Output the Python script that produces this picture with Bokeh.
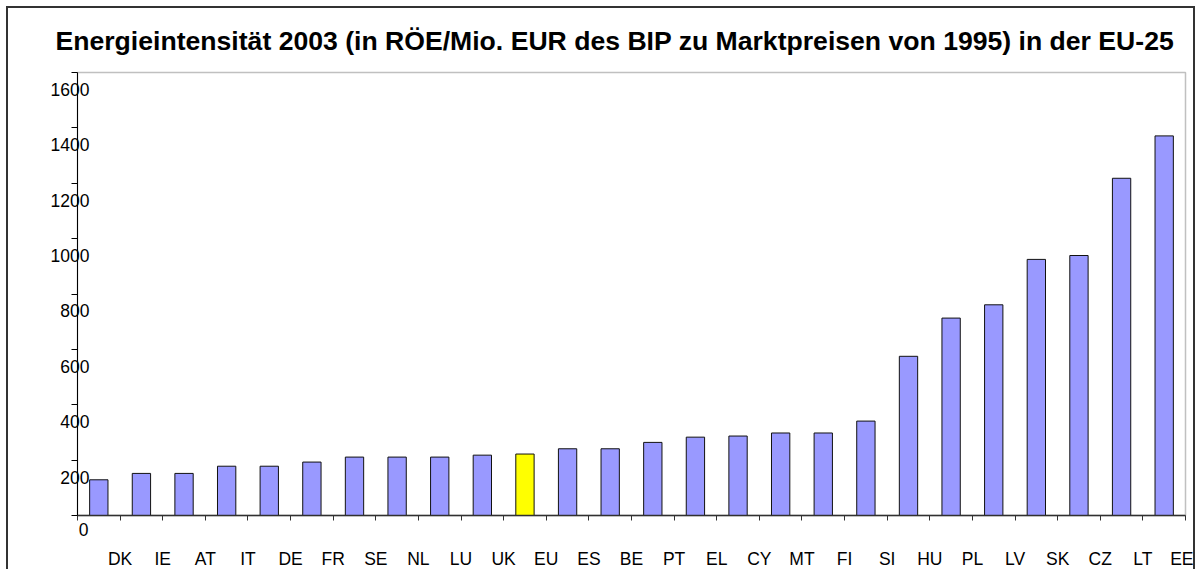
from bokeh.plotting import figure
from bokeh.models import ColumnDataSource, Range1d, FixedTicker, LinearAxis
from bokeh.embed import file_html
from bokeh.resources import INLINE

title_text = "Energieintensität 2003 (in RÖE/Mio. EUR des BIP zu Marktpreisen von 1995) in der EU-25"
countries = ["DK", "IE", "AT", "IT", "DE", "FR", "SE", "NL", "LU", "UK", "EU", "ES", "BE",
             "PT", "EL", "CY", "MT", "FI", "SI", "HU", "PL", "LV", "SK", "CZ", "LT", "EE"]
values = [129, 152, 152, 178, 178, 193, 211, 211, 211, 218, 222, 241, 241,
          264, 283, 287, 298, 298, 341, 575, 713, 761, 925, 939, 1218, 1371]
highlight = "EU"
y_ticks = [0, 200, 400, 600, 800, 1000, 1200, 1400, 1600]
y_tick_labels = [str(t) for t in y_ticks]

BAR_COLOR = "#9999FF"
HI_COLOR = "#FFFF00"
FONT = "Liberation Sans"
LABEL_SIZE = "17.5px"

W, H = 1189, 563
FRAME_L, FRAME_R, FRAME_T, FRAME_B = 69, 12, 64, 54
frame_h = H - FRAME_T - FRAME_B
frame_w = W - FRAME_L - FRAME_R

n = len(countries)
y_max = y_ticks[-1]
bar_src = ColumnDataSource(dict(
    x=[i + 0.5 for i in range(n)],
    top=values,
    color=[HI_COLOR if c == highlight else BAR_COLOR for c in countries],
))

# label offsets (pixels) converted to data units for shifted label ranges
ylab_shift = 17 * y_max / frame_h
xzero_shift = 6 * n / frame_w

p = figure(width=W, height=H, output_backend="svg", toolbar_location=None,
           x_range=Range1d(0, n), y_range=Range1d(0, y_max),
           min_border_left=FRAME_L, min_border_right=FRAME_R,
           min_border_top=FRAME_T, min_border_bottom=FRAME_B)
p.extra_y_ranges = {"ylab": Range1d(ylab_shift, y_max + ylab_shift)}
p.extra_x_ranges = {"zero": Range1d(-xzero_shift, n - xzero_shift)}

p.styles = {"margin-left": "6px", "margin-top": "6px",
            "border-left": "2px solid #333333",
            "border-top": "2px solid #333333",
            "border-right": "2px solid #333333"}

p.vbar(x="x", top="top", bottom=0, width=0.43, fill_color="color",
       line_color="#111111", line_width=1, source=bar_src)

p.xgrid.visible = False
p.ygrid.visible = False
p.outline_line_color = "#c0c0c0"
p.outline_line_width = 1.5

# main x axis: line and ticks at category boundaries (no labels)
xa = p.xaxis[0]
xa.ticker = FixedTicker(ticks=list(range(n + 1)))
xa.major_label_text_font_size = "0px"
xa.major_label_text_color = None
xa.major_label_standoff = 0
xa.major_tick_out = 5
xa.major_tick_in = 0
xa.minor_tick_line_color = None
xa.axis_line_color = "#303030"
xa.major_tick_line_color = "#303030"
xa.axis_line_width = 1.5

# "0" label of the value axis
xz = LinearAxis(x_range_name="zero", ticker=FixedTicker(ticks=[0]),
                major_label_overrides={0: y_tick_labels[0]},
                axis_line_color=None, major_tick_line_color=None, minor_tick_line_color=None,
                major_tick_out=0, major_tick_in=0, major_label_standoff=2,
                major_label_text_font=FONT, major_label_text_font_size=LABEL_SIZE,
                major_label_text_color="#000000")
p.add_layout(xz, "below")

# category labels, placed at the boundary to the right of each bar
xc = LinearAxis(ticker=FixedTicker(ticks=[i + 1 for i in range(n)]),
                major_label_overrides={i + 1: c for i, c in enumerate(countries)},
                axis_line_color=None, major_tick_line_color=None, minor_tick_line_color=None,
                major_tick_out=0, major_tick_in=0, major_label_standoff=10,
                major_label_text_font=FONT, major_label_text_font_size=LABEL_SIZE,
                major_label_text_color="#000000")
p.add_layout(xc, "below")

# main y axis: line and ticks (no labels)
ya = p.yaxis[0]
ya.ticker = FixedTicker(ticks=y_ticks)
ya.major_label_text_font_size = "0px"
ya.major_label_text_color = None
ya.major_label_standoff = 0
ya.major_tick_out = 6
ya.major_tick_in = 0
ya.minor_tick_line_color = None
ya.axis_line_color = "#000000"
ya.major_tick_line_color = "#000000"

# value labels, shifted down below their ticks
yl = LinearAxis(y_range_name="ylab", ticker=FixedTicker(ticks=y_ticks[1:]),
                major_label_overrides={t: s for t, s in zip(y_ticks[1:], y_tick_labels[1:])},
                axis_line_color=None, major_tick_line_color=None, minor_tick_line_color=None,
                major_tick_out=0, major_tick_in=0, major_label_standoff=-18,
                major_label_text_font=FONT, major_label_text_font_size=LABEL_SIZE,
                major_label_text_color="#000000")
p.add_layout(yl, "left")

p.title.text = title_text
p.title.text_font = FONT
p.title.text_font_style = "bold"
p.title.text_font_size = "26.6px"
p.title.text_color = "#000000"
p.title.align = "left"
p.title.vertical_align = "top"
p.title.offset = -22
p.title.standoff = 30

open("out.html", "w").write(file_html(p, INLINE))
